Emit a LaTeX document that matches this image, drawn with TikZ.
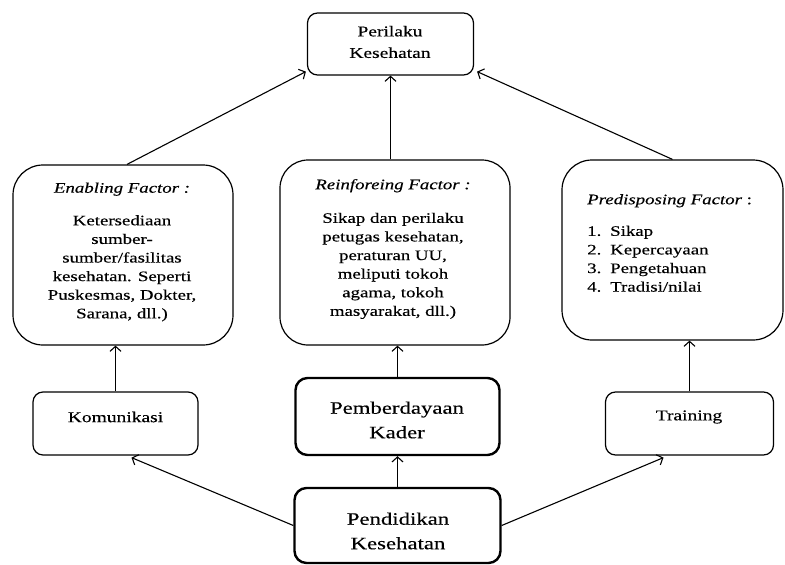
\documentclass[tikz,border=0pt]{standalone}
\usepackage{fontspec}
\setmainfont{Liberation Serif}[FakeStretch=1.3,FakeBold=0.3]
\usetikzlibrary{arrows.meta,calc}
\begin{document}
\begin{tikzpicture}[x=1pt,y=-1pt,
  box/.style={draw, line width=1.2pt, rounded corners=#1, inner sep=0pt},
  thickbox/.style={draw, line width=2.4pt, rounded corners=#1, inner sep=0pt},
  txtsmall/.style={inner sep=0pt, font=\fontsize{14.5}{18.6}\selectfont},
  txtmid/.style={inner sep=0pt, font=\fontsize{15}{21.5}\selectfont},
  txtbig/.style={inner sep=0pt, font=\fontsize{17.5}{24.5}\selectfont},
  arr/.style={line width=1.1pt, -{Straight Barb[length=5pt,width=11pt]}}]
\useasboundingbox (0,0) rectangle (785,565);
\fill[white] (0,0) rectangle (785,565);

% boxes
\node[box=10, minimum width=166pt, minimum height=62pt] (per) at (390.5,44) {};
\node[box=30, minimum width=220pt, minimum height=180pt] (enab) at (123,255) {};
\node[box=28, minimum width=230pt, minimum height=185pt] (reinf) at (395,252.5) {};
\node[box=30, minimum width=221pt, minimum height=180pt] (pred) at (672.5,250) {};
\node[box=10, minimum width=165pt, minimum height=63pt] (kom) at (115.5,423.5) {};
\node[thickbox=12, minimum width=204pt, minimum height=77pt] (pemb) at (397.5,416.5) {};
\node[thickbox=12, minimum width=206pt, minimum height=75pt] (pend) at (397.5,525.5) {};
\node[box=10, minimum width=168pt, minimum height=63pt] (train) at (689.5,423.5) {};

% texts
\node[txtmid, align=center] (pertext) at (390,42) {Perilaku\\Kesehatan};
\node[txtsmall, align=center] (enabtext) at (122,252) {{\itshape Enabling Factor :}\\[14pt]
  Ketersediaan\\ sumber-\\ sumber/fasilitas\\ kesehatan. Seperti\\ Puskesmas, Dokter,\\ Sarana, dll.)};
\node[txtsmall, align=center] (reinftext) at (393,249) {{\itshape Reinforeing Factor :}\\[15pt]
  Sikap dan perilaku\\ petugas kesehatan,\\ peraturan UU,\\ meliputi tokoh\\ agama, tokoh\\ masyarakat, dll.)};
\node[txtsmall, align=left, anchor=west] (predtext) at (587,243) {{\itshape Predisposing Factor} :\\[13pt]
  \makebox[23pt][l]{1.}Sikap\\ \makebox[23pt][l]{2.}Kepercayaan\\ \makebox[23pt][l]{3.}Pengetahuan\\ \makebox[23pt][l]{4.}Tradisi/nilai};
\node[txtmid] (komtext) at (115.5,417) {Komunikasi};
\node[txtmid] (traintext) at (689,417) {Training};
\node[txtbig, align=center] (pembtext) at (397,420) {Pemberdayaan\\Kader};
\node[txtbig, align=center] (pendtext) at (398,531) {Pendidikan\\Kesehatan};

% connectors
\draw[arr] (pend.west) -- ($(kom.south)+(16,2)$);
\draw[arr] (pend.north) -- (pemb.south);
\draw[arr] (pend.east) -- ($(train.south)+(-26,2)$);
\draw[arr] (kom.north) -- (kom.north |- enab.south);
\draw[arr] (pemb.north) -- (pemb.north |- reinf.south);
\draw[arr] (train.north) -- (train.north |- pred.south);
\draw[arr] ($(enab.north)+(4,0)$) -- ($(per.south west)+(-1,-4)$);
\draw[arr] (per.south |- reinf.north) -- (per.south);
\draw[arr] (pred.north) -- ($(per.south east)+(3,-4)$);
\end{tikzpicture}
\end{document}
